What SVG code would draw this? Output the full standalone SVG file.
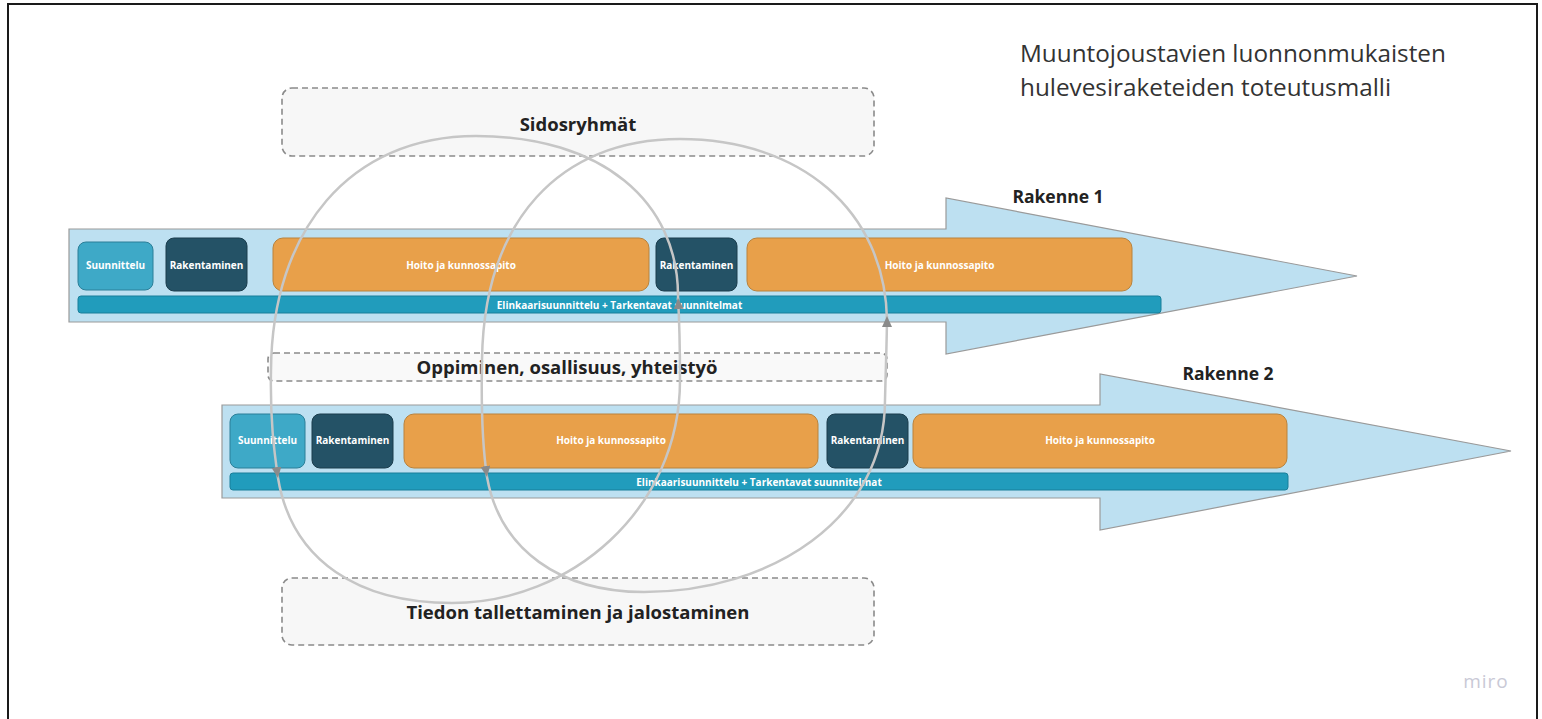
<svg xmlns="http://www.w3.org/2000/svg" width="1542" height="719" viewBox="0 0 1542 719">
<style>
.t{font-family:"Open Sans","Liberation Sans",sans-serif;font-weight:700;text-anchor:middle}
.sm{font-size:10px;fill:#ffffff}
.bar{font-size:10px;fill:#ffffff}
.dash{fill:#f7f7f7;stroke:#8a8a8a;stroke-width:1.6;stroke-dasharray:6 4}
.dl{font-size:18.5px;fill:#222222}
.arrow{fill:#bde0f1;stroke:#9a9a9a;stroke-width:1.2}
.su{fill:#3ea9c7;stroke:#2b7f98;stroke-width:1}
.ra{fill:#245266;stroke:#1b3d4d;stroke-width:1}
.ho{fill:#e8a04a;stroke:#b9823c;stroke-width:1}
.eb{fill:#219cbc;stroke:#197f9a;stroke-width:1}
.loop{fill:none;stroke:#c6c6c6;stroke-width:2.5;marker-end:url(#ah)}
</style>
<defs>
<marker id="ah" markerUnits="userSpaceOnUse" markerWidth="14" markerHeight="14" refX="11" refY="5" orient="auto">
<path d="M0,0 L11,5 L0,10 Z" fill="#8a8a8a"/>
</marker>
</defs>
<rect x="0" y="0" width="1542" height="719" fill="#ffffff"/>
<path d="M8,725 L8,4 L1537,4 L1537,725" fill="none" stroke="#1a1a1a" stroke-width="2"/>
<g id="title">
<text x="1020" y="62" font-family="'Open Sans','Liberation Sans',sans-serif" font-size="24.3" fill="#333333">Muuntojoustavien luonnonmukaisten</text>
<text x="1020" y="96" font-family="'Open Sans','Liberation Sans',sans-serif" font-size="24.3" fill="#333333">hulevesiraketeiden toteutusmalli</text>
</g>
<g id="sidosryhmat">
<rect class="dash" x="282" y="88" width="592" height="68" rx="10"/>
<text class="t dl" x="578" y="131">Sidosryhmät</text>
</g>
<g id="rakenne1">
<path class="arrow" d="M69,229 L946,229 L946,198 L1357,276 L946,354 L946,322 L69,322 Z"/>
<text class="t" x="1058" y="203" font-size="17.5" fill="#222222">Rakenne 1</text>
</g>
<g id="r1-suunnittelu"><rect class="su" x="78" y="242" width="75" height="48" rx="8"/><text class="t sm" x="115.5" y="269">Suunnittelu</text></g>
<g id="r1-rakentaminen1"><rect class="ra" x="166" y="238" width="81" height="53" rx="8"/><text class="t sm" x="206.5" y="269">Rakentaminen</text></g>
<g id="r1-hoito1"><rect class="ho" x="273" y="238" width="376" height="53" rx="10"/><text class="t sm" x="461" y="269">Hoito ja kunnossapito</text></g>
<g id="r1-rakentaminen2"><rect class="ra" x="656" y="238" width="81" height="53" rx="8"/><text class="t sm" x="696.5" y="269">Rakentaminen</text></g>
<g id="r1-hoito2"><rect class="ho" x="747" y="238" width="385" height="53" rx="10"/><text class="t sm" x="939.5" y="269">Hoito ja kunnossapito</text></g>
<g id="r1-elinkaari"><rect class="eb" x="78" y="296" width="1083" height="17" rx="3"/><text class="t bar" x="619.5" y="308.5">Elinkaarisuunnittelu + Tarkentavat suunnitelmat</text></g>
<g id="oppiminen">
<rect class="dash" x="268" y="353" width="619" height="28" rx="6" style="fill:#f9f9f9"/>
<text class="t dl" x="567" y="374" font-size="19">Oppiminen, osallisuus, yhteistyö</text>
</g>
<g id="rakenne2">
<path class="arrow" d="M222,405 L1100,405 L1100,374 L1511,451 L1100,530 L1100,498 L222,498 Z"/>
<text class="t" x="1228" y="380" font-size="17.5" fill="#222222">Rakenne 2</text>
</g>
<g id="r2-suunnittelu"><rect class="su" x="230" y="414" width="75" height="54" rx="8"/><text class="t sm" x="267.5" y="444">Suunnittelu</text></g>
<g id="r2-rakentaminen1"><rect class="ra" x="312" y="414" width="81" height="54" rx="8"/><text class="t sm" x="352.5" y="444">Rakentaminen</text></g>
<g id="r2-hoito1"><rect class="ho" x="404" y="414" width="414" height="54" rx="10"/><text class="t sm" x="611" y="444">Hoito ja kunnossapito</text></g>
<g id="r2-rakentaminen2"><rect class="ra" x="827" y="414" width="81" height="54" rx="8"/><text class="t sm" x="867.5" y="444">Rakentaminen</text></g>
<g id="r2-hoito2"><rect class="ho" x="913" y="414" width="374" height="54" rx="10"/><text class="t sm" x="1100" y="444">Hoito ja kunnossapito</text></g>
<g id="r2-elinkaari"><rect class="eb" x="230" y="473" width="1058" height="17" rx="3"/><text class="t bar" x="759" y="485.5">Elinkaarisuunnittelu + Tarkentavat suunnitelmat</text></g>
<g id="tiedon">
<rect class="dash" x="282" y="578" width="592" height="67" rx="10"/>
<text class="t dl" x="578" y="619">Tiedon tallettaminen ja jalostaminen</text>
</g>
<g id="connectors">
<path class="loop" d="M678,300 C680,200 600,136 476,136 C350,136 272,230 271,370 C270,420 274,450 278,478"/>
<path class="loop" d="M278,478 C292,562 360,603 452,603 C570,603 680,510 680,380 C680,340 679,315 678,298"/>
<path class="loop" d="M887,320 C885,210 800,139 680,139 C560,139 484,220 482,360 C481,410 483,450 487,477"/>
<path class="loop" d="M487,477 C500,550 560,592 644,592 C770,592 885,520 885,400 C886,360 887,335 887,316"/>
</g>
<text x="1486" y="688" font-family="'Open Sans','Liberation Sans',sans-serif" font-size="19" fill="#c9c9d6" text-anchor="middle" letter-spacing="1">miro</text>
</svg>
